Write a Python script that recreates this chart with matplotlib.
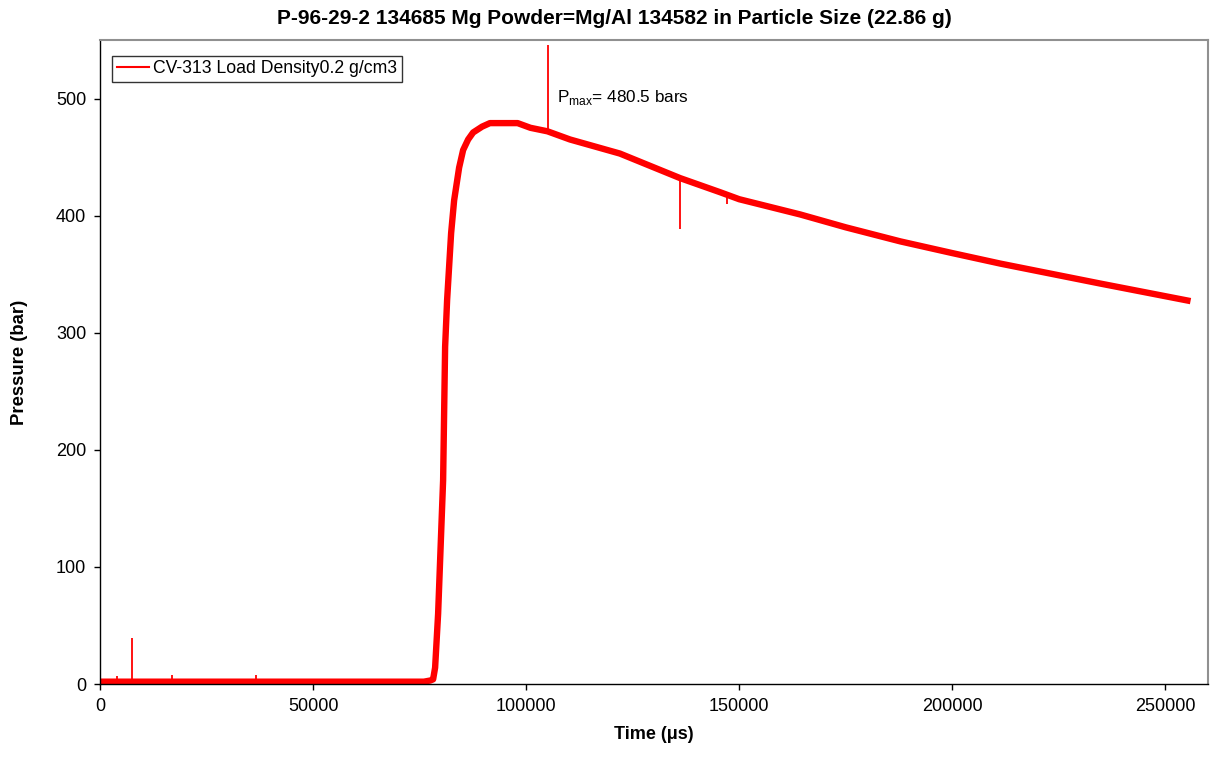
import numpy as np
import matplotlib
matplotlib.use("Agg")
from matplotlib import pyplot as plt
from matplotlib.lines import Line2D

plt.rcParams['font.family'] = ['Liberation Sans', 'DejaVu Sans']
plt.rcParams['mathtext.fontset'] = 'custom'
plt.rcParams['mathtext.rm'] = 'Liberation Sans'

# pressure trace of the closed-vessel shot (time in us, pressure in bar)
time_us = [0, 20000, 40000, 60000, 76000, 77500, 78169, 78638, 79343, 80516,
           80986, 81455, 82394, 83099, 84272, 85211, 86385, 87559, 89671,
           91500, 98000, 101000, 105000, 110300, 122000, 136150, 145500,
           150000, 164300, 175000, 187800, 200000, 211300, 234700, 255900]
pressure_bar = [2, 2, 2, 2, 2, 3, 4, 14, 60, 174,
                288, 328, 385, 413, 441, 456, 465, 471, 476,
                479, 479, 475, 472, 465, 453, 432, 420,
                414, 401, 390, 378, 368, 359, 342, 327]

# single-sample glitches in the record: (time, spike value)
spike_time = [3990, 7510, 16900, 36600, 105160, 136150, 147200]
spike_value = [7, 39, 8, 8, 546, 389, 410]

pmax = 480.5

fig = plt.figure(figsize=(12.12, 7.57), dpi=100)
ax = fig.add_axes([0.0825, 0.0964, 0.9142, 0.8508])

ax.plot(time_us, pressure_bar, color='#ff0000', lw=4.6, solid_joinstyle='round',
        solid_capstyle='butt')
base = np.interp(spike_time, time_us, pressure_bar)
ax.vlines(spike_time, base, spike_value, color='#ff0000', lw=1.3)

ax.set_xlim(0, 260000)
ax.set_ylim(0, 550)
ax.set_xticks([0, 50000, 100000, 150000, 200000, 250000])
ax.set_yticks([0, 100, 200, 300, 400, 500])
ax.tick_params(direction='out', length=4, width=1, labelsize=13, pad=6, color='black')

for side in ('top', 'right'):
    ax.spines[side].set_color('#909090')
    ax.spines[side].set_linewidth(1.5)
for side in ('left', 'bottom'):
    ax.spines[side].set_color('black')
    ax.spines[side].set_linewidth(1)

fig.text(0.507, 0.976, 'P-96-29-2 134685 Mg Powder=Mg/Al 134582 in Particle Size (22.86 g)',
         fontsize=15, fontweight='bold', ha='center', va='center')
ax.set_xlabel('Time (\u03bcs)', fontsize=13, fontweight='bold', labelpad=8)
ax.set_ylabel('Pressure (bar)', fontsize=13.3, fontweight='bold', labelpad=20)

ax.text(107300, 501, r'P$_{\mathregular{max}}$= ' + f'{pmax} bars', fontsize=12.3,
        ha='left', va='center')

handle = Line2D([], [], color='#ff0000', lw=1.5)
leg = ax.legend([handle], ['CV-313 Load Density0.2 g/cm3'], loc='upper left',
                bbox_to_anchor=(0.011, 0.975), fontsize=12.7, frameon=True,
                fancybox=False, handlelength=1.85, handletextpad=0.22,
                borderpad=0.25, borderaxespad=0)
leg.get_frame().set_edgecolor('black')
leg.get_frame().set_linewidth(1)

fig.savefig('out.png', dpi=100)
